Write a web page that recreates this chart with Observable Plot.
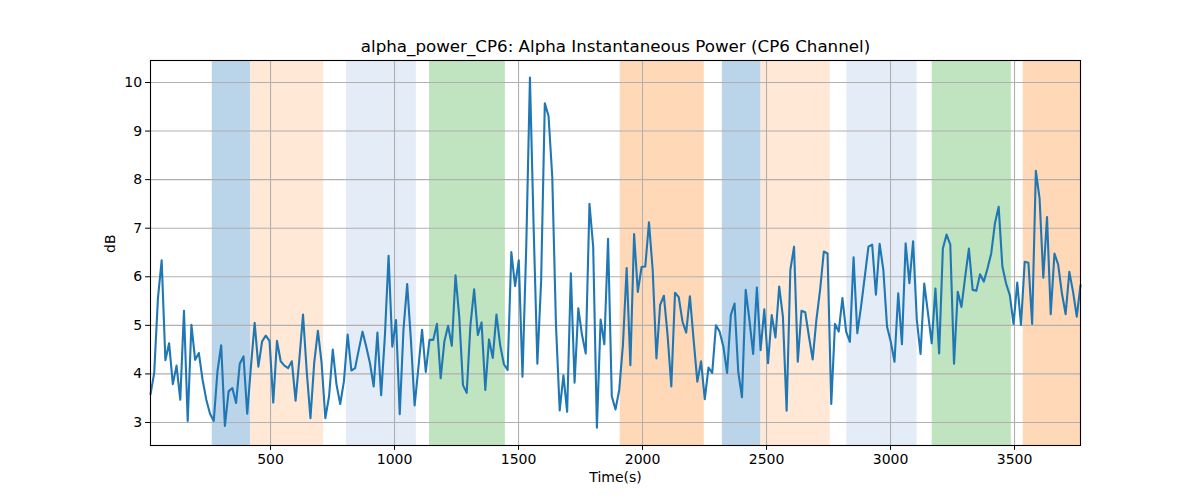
<!DOCTYPE html>
<html>
<head>
<meta charset="utf-8">
<script src="https://cdn.jsdelivr.net/npm/d3@7"></script>
<script src="https://cdn.jsdelivr.net/npm/@observablehq/plot@0.6"></script>
<style>
  html, body { margin: 0; padding: 0; background: #fff; }
  #chart { width: 1200px; height: 500px; }
</style>
</head>
<body>
<div id="chart"></div>
<script>
const titleText = "alpha_power_CP6: Alpha Instantaneous Power (CP6 Channel)";
const xLabel = "Time(s)";
const yLabel = "dB";

const timeStart = 16;
const timeStep = 15;

const power = [
  3.58, 4.02, 5.56, 6.34, 4.28, 4.63, 3.79, 4.17, 3.47, 5.30,
  3.03, 5.01, 4.29, 4.43, 3.88, 3.47, 3.18, 3.03, 4.05, 4.59,
  2.93, 3.64, 3.71, 3.40, 4.21, 4.36, 3.18, 4.15, 5.05, 4.15,
  4.67, 4.79, 4.68, 3.41, 4.68, 4.26, 4.17, 4.12, 4.26, 3.45,
  4.29, 5.22, 4.05, 3.09, 4.22, 4.89, 4.22, 3.09, 3.54, 4.50,
  3.78, 3.38, 3.85, 4.81, 4.07, 4.12, 4.50, 4.87, 4.56, 4.22,
  3.74, 4.85, 3.56, 4.77, 6.43, 4.56, 5.11, 3.17, 4.91, 5.85,
  4.70, 3.35, 4.12, 4.91, 4.04, 4.70, 4.70, 5.03, 3.91, 4.67,
  4.99, 4.58, 6.03, 5.18, 3.77, 3.61, 5.00, 5.74, 4.80, 5.06,
  3.67, 4.71, 4.33, 5.22, 4.59, 4.20, 4.08, 6.51, 5.81, 6.34,
  3.94, 6.60, 10.10, 7.00, 4.21, 5.90, 9.57, 9.31, 8.06, 5.00,
  3.25, 3.97, 3.22, 6.07, 3.82, 5.35, 4.80, 4.42, 7.50, 6.62,
  2.89, 5.12, 4.61, 6.78, 3.54, 3.27, 3.67, 4.60, 6.18, 4.18,
  6.88, 5.69, 6.20, 6.21, 7.12, 6.14, 4.32, 5.42, 5.61, 4.80,
  3.74, 5.67, 5.58, 5.08, 4.85, 5.60, 4.70, 3.84, 4.26, 3.48,
  4.13, 4.02, 5.00, 4.87, 4.56, 4.02, 5.21, 5.45, 4.04, 3.52,
  5.73, 5.11, 4.41, 5.78, 4.49, 5.33, 4.22, 5.21, 4.75, 5.80,
  5.18, 3.24, 6.14, 6.62, 4.25, 5.30, 5.27, 4.77, 4.30, 5.11,
  5.73, 6.52, 6.48, 3.38, 5.03, 4.87, 5.56, 4.87, 4.66, 6.40,
  4.84, 5.38, 6.00, 6.62, 6.66, 5.63, 6.68, 6.14, 4.97, 4.66,
  4.25, 5.66, 4.61, 6.69, 5.87, 6.73, 5.11, 4.41, 5.86, 5.25,
  4.63, 5.76, 4.42, 6.58, 6.87, 6.66, 4.21, 5.69, 5.38, 6.00,
  6.58, 5.73, 5.71, 6.05, 5.90, 6.17, 6.48, 7.10, 7.44, 6.21,
  5.86, 5.62, 5.03, 5.88, 5.01, 6.31, 6.29, 5.03, 8.18, 7.61,
  5.98, 7.23, 5.23, 6.48, 6.25, 5.66, 5.23, 6.10, 5.69, 5.18,
  5.83
];

const bandStart = [265, 420, 806, 1141, 1910, 2322, 2478, 2824, 3168, 3535];
const bandEnd   = [420, 714, 1088, 1447, 2249, 2478, 2757, 3107, 3487, 3766];
const bandColor = ["#bad4e9", "#ffe9d6", "#e4ecf7", "#c0e3c0", "#ffd9b7",
                   "#bad4e9", "#ffe9d6", "#e4ecf7", "#c0e3c0", "#ffd9b7"];

const xTicks = [500, 1000, 1500, 2000, 2500, 3000, 3500];
const yTicks = [3, 4, 5, 6, 7, 8, 9, 10];

const series = power.map((v, i) => ({t: timeStart + i * timeStep, v}));
const bands = bandStart.map((s, i) => ({start: s, end: bandEnd[i], color: bandColor[i]}));
const tEnd = timeStart + (power.length - 1) * timeStep;

const chart = Plot.plot({
  width: 1200,
  height: 500,
  marginLeft: 150,
  marginRight: 120,
  marginTop: 60,
  marginBottom: 55,
  style: {fontFamily: "DejaVu Sans", fontSize: "14px", background: "#fff", color: "#000"},
  x: {domain: [timeStart, tEnd]},
  y: {domain: [2.526, 10.453]},
  color: {type: "identity"},
  marks: [
    Plot.rect(bands, {x1: "start", x2: "end", fill: "color"}),
    Plot.ruleX(xTicks, {stroke: "#b0b0b0", strokeWidth: 1.1}),
    Plot.ruleY(yTicks, {stroke: "#b0b0b0", strokeWidth: 1.1}),
    Plot.line(series, {x: "t", y: "v", stroke: "#1f77b4", strokeWidth: 2.1}),
    Plot.frame({stroke: "#000", strokeWidth: 1.1}),
    Plot.axisX({ticks: xTicks, tickFormat: d => String(d), tickSize: 4.9, tickPadding: 3.5, label: null, fontSize: 14, stroke: "#000", fill: "#000"}),
    Plot.axisY({ticks: yTicks, tickFormat: d => String(d), tickSize: 4.9, tickPadding: 3.5, label: null, fontSize: 14, stroke: "#000", fill: "#000"}),
    Plot.text([titleText], {frameAnchor: "top", dy: -9, lineAnchor: "bottom", fontSize: 16.7, fill: "#000"}),
    Plot.text([xLabel], {frameAnchor: "bottom", dy: 36, fontSize: 14, fill: "#000"}),
    Plot.text([yLabel], {frameAnchor: "left", dx: -40, rotate: -90, fontSize: 14, fill: "#000"})
  ]
});
document.getElementById("chart").appendChild(chart);
</script>
</body>
</html>
